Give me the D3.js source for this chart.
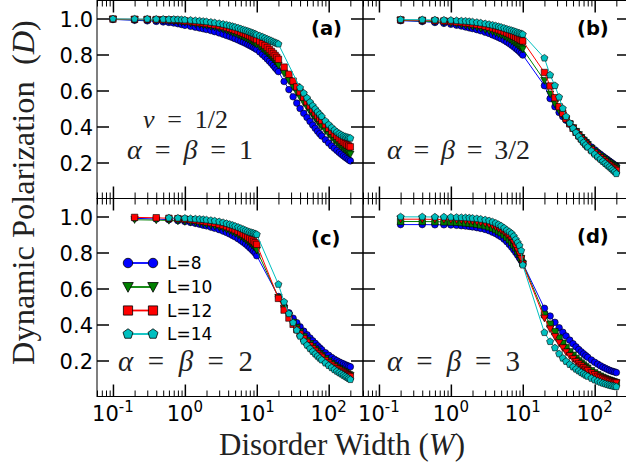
<!DOCTYPE html>
<html><head><meta charset="utf-8">
<script src="https://cdn.jsdelivr.net/npm/d3@7/dist/d3.min.js"></script>
<style>
html,body{margin:0;padding:0;background:#fff;}
svg{display:block;}
text{white-space:pre;}
</style></head>
<body>
<svg id="chart" width="626" height="469"></svg>
<script>
// ---------------- data ----------------
const seriesNames = ["L=8", "L=10", "L=12", "L=14"];
const panelTags = ["(a)", "(b)", "(c)", "(d)"];
const xTicksMajor = [0.1, 1, 10, 100];
const xTickExp = ["-1", "0", "1", "2"];
const yTicksMajor = [0.2, 0.4, 0.6, 0.8, 1.0];

// disorder widths, panel (a)
const W_A = [0.1,0.2,0.3,0.4,0.5,0.6,0.7,0.8,0.9,1.0,
  1.2,1.4,1.6,1.8,2.0,2.3,2.6,3.0,3.4,3.8,
  4.2,4.6,5.0,5.5,6,6.5,7,7.5,8,8.5,
  9,9.5,10,11,12,13,14,15,16,17,
  18,19,20,24,28,32,36,40,45,50,
  55,60,65,70,75,80,90,100,110,120,
  130,140,150,160,170,180,190,200];
// disorder widths, panels (b)-(d)
const W_BCD = [0.2,0.4,0.6,0.8,1.0,1.2,1.4,1.6,1.8,2.0,
  2.3,2.6,3.0,3.4,3.8,4.2,4.6,5.0,5.5,6,
  6.5,7,7.5,8,8.5,9,9.5,10,20,24,
  28,32,36,40,45,50,55,60,65,70,
  75,80,90,100,110,120,130,140,150,160,
  170,180,190,200];

// (a) alpha=beta=1
const A_L8 = [0.995,0.99,0.987,0.984,0.981,0.978,0.975,0.971,0.967,0.962,
  0.957,0.952,0.947,0.943,0.939,0.933,0.927,0.92,0.913,0.906,
  0.9,0.894,0.888,0.881,0.874,0.868,0.862,0.856,0.85,0.845,
  0.839,0.834,0.828,0.814,0.8,0.788,0.775,0.763,0.751,0.739,
  0.727,0.716,0.705,0.65,0.605,0.565,0.53,0.5,0.473,0.45,
  0.428,0.408,0.39,0.374,0.36,0.347,0.326,0.308,0.292,0.279,
  0.267,0.256,0.246,0.237,0.229,0.222,0.215,0.209];
const A_L10 = [0.995,0.993,0.992,0.99,0.988,0.986,0.984,0.982,0.98,0.978,
  0.974,0.97,0.967,0.964,0.961,0.956,0.952,0.946,0.94,0.934,
  0.928,0.922,0.917,0.91,0.903,0.897,0.891,0.885,0.879,0.873,
  0.867,0.861,0.855,0.843,0.831,0.819,0.807,0.795,0.784,0.773,
  0.762,0.751,0.74,0.695,0.655,0.62,0.59,0.562,0.532,0.506,
  0.483,0.462,0.444,0.428,0.413,0.4,0.376,0.356,0.338,0.323,
  0.31,0.298,0.287,0.277,0.268,0.26,0.253,0.246];
const A_L12 = [0.997,0.996,0.995,0.994,0.993,0.992,0.991,0.99,0.988,0.986,
  0.983,0.98,0.977,0.975,0.972,0.968,0.965,0.96,0.955,0.95,
  0.945,0.94,0.935,0.93,0.924,0.918,0.913,0.908,0.903,0.898,
  0.893,0.888,0.883,0.872,0.861,0.85,0.839,0.828,0.817,0.806,
  0.795,0.784,0.773,0.73,0.69,0.652,0.62,0.592,0.562,0.537,
  0.514,0.494,0.476,0.46,0.446,0.433,0.41,0.39,0.373,0.358,
  0.345,0.333,0.322,0.313,0.305,0.298,0.292,0.287];
const A_L14 = [0.998,0.997,0.997,0.996,0.996,0.995,0.995,0.994,0.993,0.992,
  0.99,0.988,0.986,0.984,0.982,0.979,0.976,0.972,0.968,0.964,
  0.96,0.956,0.952,0.947,0.942,0.937,0.933,0.929,0.925,0.921,
  0.917,0.913,0.909,0.903,0.897,0.891,0.885,0.88,0.875,0.87,
  0.866,0.862,0.858,null,null,null,null,0.615,0.585,0.558,
  0.535,0.515,0.497,0.481,0.467,0.455,0.43,0.41,0.394,0.38,
  0.369,0.36,0.353,0.347,0.343,0.34,0.337,0.335];

// (b) alpha=beta=3/2
const B_L8 = [0.988,0.983,0.978,0.973,0.968,0.963,0.958,0.953,0.948,0.944,
  0.938,0.932,0.924,0.917,0.909,0.902,0.895,0.888,0.879,0.87,
  0.861,0.852,0.843,0.834,0.825,0.816,0.807,0.797,0.627,0.555,
  0.51,0.478,0.455,0.435,0.413,0.393,0.374,0.357,0.342,0.328,
  0.316,0.305,0.286,0.27,0.256,0.245,0.234,0.225,0.216,0.208,
  0.2,0.193,0.186,0.18];
const B_L10 = [0.99,0.986,0.982,0.978,0.974,0.97,0.966,0.962,0.958,0.955,
  0.95,0.945,0.938,0.932,0.926,0.92,0.914,0.908,0.9,0.892,
  0.884,0.876,0.868,0.86,0.852,0.844,0.837,0.83,0.655,0.58,
  0.525,0.487,0.46,0.437,0.413,0.392,0.372,0.354,0.338,0.323,
  0.31,0.298,0.278,0.262,0.247,0.235,0.224,0.214,0.205,0.197,
  0.189,0.182,0.175,0.168];
const B_L12 = [0.992,0.99,0.988,0.986,0.983,0.98,0.978,0.975,0.973,0.97,
  0.966,0.962,0.957,0.952,0.947,0.942,0.937,0.932,0.926,0.92,
  0.914,0.908,0.902,0.896,0.89,0.885,0.88,0.875,0.7,0.625,
  0.56,0.51,0.473,0.443,0.415,0.39,0.368,0.349,0.332,0.317,
  0.303,0.291,0.271,0.254,0.239,0.226,0.215,0.205,0.195,0.186,
  0.178,0.17,0.163,0.156];
const B_L14 = [0.994,0.993,0.992,0.991,0.99,0.988,0.986,0.985,0.983,0.981,
  0.978,0.975,0.971,0.967,0.963,0.959,0.955,0.951,0.946,0.941,
  0.937,0.933,0.929,0.925,0.921,0.918,0.915,0.912,0.78,0.686,
  0.627,0.563,0.5,0.455,0.418,0.39,0.366,0.345,0.327,0.311,
  0.297,0.285,0.264,0.246,0.231,0.218,0.206,0.195,0.185,0.175,
  0.166,0.157,0.148,0.138];

// (c) alpha=beta=2
const C_L8 = [0.99,0.986,0.982,0.977,0.972,0.967,0.962,0.957,0.952,0.948,
  0.941,0.935,0.927,0.919,0.911,0.903,0.895,0.887,0.877,0.867,
  0.857,0.847,0.837,0.827,0.817,0.807,0.797,0.782,0.555,0.5,
  0.465,0.435,0.41,0.387,0.363,0.343,0.325,0.309,0.295,0.282,
  0.27,0.26,0.243,0.229,0.217,0.207,0.199,0.192,0.186,0.181,
  0.176,0.172,0.168,0.165];
const C_L10 = [0.982,0.98,0.978,0.975,0.972,0.969,0.966,0.963,0.96,0.957,
  0.952,0.947,0.941,0.935,0.928,0.921,0.914,0.907,0.898,0.889,
  0.88,0.871,0.862,0.853,0.844,0.835,0.826,0.812,0.55,0.49,
  0.447,0.412,0.383,0.358,0.333,0.312,0.293,0.276,0.262,0.249,
  0.238,0.228,0.21,0.196,0.183,0.172,0.162,0.154,0.146,0.139,
  0.133,0.127,0.122,0.117];
const C_L12 = [0.995,0.993,0.99,0.988,0.985,0.982,0.979,0.976,0.973,0.97,
  0.966,0.962,0.956,0.95,0.944,0.938,0.932,0.926,0.918,0.91,
  0.902,0.894,0.886,0.878,0.87,0.862,0.854,0.845,0.545,0.48,
  0.436,0.401,0.372,0.347,0.322,0.301,0.282,0.266,0.252,0.239,
  0.228,0.218,0.2,0.186,0.174,0.163,0.154,0.146,0.139,0.133,
  0.127,0.121,0.116,0.111];
const C_L14 = [null,null,0.992,0.991,0.99,0.988,0.986,0.985,0.983,0.981,
  0.978,0.975,0.971,0.966,0.961,0.956,0.951,0.946,0.94,0.934,
  0.928,0.922,0.917,0.913,0.91,0.907,0.903,0.9,0.623,0.525,
  0.46,0.41,0.368,0.335,0.307,0.285,0.266,0.25,0.236,0.224,
  0.213,0.203,0.186,0.172,0.16,0.149,0.14,0.132,0.125,0.118,
  0.112,0.106,0.1,0.094];

// (d) alpha=beta=3
const D_L8 = [0.955,0.955,0.954,0.954,0.953,0.951,0.949,0.947,0.945,0.942,
  0.938,0.934,0.928,0.921,0.913,0.905,0.896,0.887,0.874,0.86,
  0.845,0.83,0.815,0.8,0.785,0.77,0.755,0.74,0.49,0.447,
  0.412,0.382,0.357,0.336,0.313,0.293,0.276,0.261,0.248,0.237,
  0.227,0.218,0.203,0.19,0.18,0.171,0.163,0.157,0.151,0.146,
  0.142,0.139,0.136,0.133];
const D_L10 = [0.972,0.972,0.971,0.97,0.969,0.968,0.966,0.964,0.962,0.96,
  0.957,0.953,0.948,0.942,0.935,0.927,0.919,0.91,0.898,0.885,
  0.871,0.857,0.842,0.826,0.808,0.79,0.768,0.74,0.455,0.402,
  0.36,0.325,0.296,0.272,0.248,0.229,0.212,0.198,0.186,0.175,
  0.165,0.157,0.143,0.131,0.121,0.113,0.106,0.1,0.095,0.091,
  0.087,0.083,0.08,0.077];
const D_L12 = [0.985,0.985,0.984,0.983,0.982,0.981,0.98,0.978,0.976,0.974,
  0.971,0.967,0.962,0.956,0.949,0.941,0.933,0.924,0.912,0.899,
  0.885,0.87,0.855,0.83,0.81,0.79,0.765,0.735,0.435,0.375,
  0.333,0.298,0.27,0.247,0.226,0.209,0.194,0.181,0.17,0.16,
  0.151,0.143,0.131,0.121,0.112,0.105,0.099,0.094,0.09,0.086,
  0.083,0.08,0.077,0.075];
const D_L14 = [0.998,0.998,0.997,0.997,0.996,0.995,0.994,0.993,0.992,0.99,
  0.988,0.985,0.981,0.976,0.97,0.963,0.955,0.947,0.936,0.924,
  0.915,0.905,0.89,0.872,0.855,0.838,0.81,0.73,0.355,0.305,
  0.27,0.237,0.213,0.195,0.178,0.164,0.152,0.142,0.133,0.125,
  0.118,0.112,0.101,0.092,0.085,0.079,0.074,0.07,0.066,0.063,
  0.06,0.058,0.056,0.054];

// ---------------- drawing ----------------
const svg = d3.select("#chart");
const PW = 266, PH = 198;
const colX = [97, 363], rowY = [0.5, 198.5];
const x = d3.scaleLog().domain([0.06, 300]).range([0, PW]);
const y = d3.scaleLinear().domain([0, 1.1]).range([PH, 0]);
const colors = ["#0000ff", "#008000", "#ff0000", "#00bfbf"];

const shapes = {
  circle: {draw(c, s){ const r = s/2; c.moveTo(r, 0); c.arc(0, 0, r, 0, 2*Math.PI); c.closePath(); }},
  square: {draw(c, s){ const h = s*0.46; c.rect(-h, -h, 2*h, 2*h); }},
  tri:    {draw(c, s){ const h = s/2; c.moveTo(0, h); c.lineTo(-h, -h*0.85); c.lineTo(h, -h*0.85); c.closePath(); }},
  pent:   {draw(c, s){ const r = s/2; for (let i = 0; i < 5; i++){ const a = -Math.PI/2 + i*2*Math.PI/5; const px = r*Math.cos(a), py = r*Math.sin(a); if (i) c.lineTo(px, py); else c.moveTo(px, py);} c.closePath(); }}
};
const msData = {circle: 6.6, square: 7, tri: 7.4, pent: 7.4};
const msLegend = {circle: 9.5, square: 10, tri: 10.5, pent: 10.5};

const panels = [
  {col:0, row:0, W:W_A,   D:[A_L8,A_L10,A_L12,A_L14], shp:["circle","tri","square","pent"]},
  {col:1, row:0, W:W_BCD, D:[B_L8,B_L10,B_L12,B_L14], shp:["circle","tri","square","pent"]},
  {col:0, row:1, W:W_BCD, D:[C_L8,C_L10,C_L12,C_L14], shp:["circle","tri","square","pent"]},
  {col:1, row:1, W:W_BCD, D:[D_L8,D_L10,D_L12,D_L14], shp:["circle","square","tri","pent"]}
];

const minorTicks = [];
[-2,-1,0,1,2].forEach(k => { for (let m = 2; m <= 9; m++){ const v = m*Math.pow(10,k); if (v >= 0.06 && v < 300) minorTicks.push(+v.toPrecision(3)); } });

panels.forEach((p, pi) => {
  const g = svg.append("g").attr("transform", `translate(${colX[p.col]},${rowY[p.row]})`);
  p.D.forEach((vals, si) => {
    const pts = p.W.map((w, i) => ({w, d: vals[i]})).filter(q => q.d != null);
    const sg = g.append("g");
    sg.append("path").datum(pts)
      .attr("fill", "none").attr("stroke", colors[si]).attr("stroke-width", 1)
      .attr("d", d3.line().x(q => x(q.w)).y(q => y(q.d)));
    sg.selectAll("path.m").data(pts).join("path").attr("class", "m")
      .attr("transform", q => `translate(${x(q.w)},${y(q.d)})`)
      .attr("d", d3.symbol().type(shapes[p.shp[si]]).size(msData[p.shp[si]]))
      .attr("fill", colors[si]).attr("stroke", "#000").attr("stroke-width", 0.6);
  });
  const styleAx = (sel, w) => { sel.select(".domain").remove(); sel.selectAll(".tick line").attr("stroke", "#000").attr("stroke-width", w); };
  g.append("g").attr("transform", `translate(0,${PH})`).call(d3.axisBottom(x).tickValues(xTicksMajor).tickSize(-12).tickFormat("")).call(s => styleAx(s, 1.5));
  g.append("g").attr("transform", `translate(0,${PH})`).call(d3.axisBottom(x).tickValues(minorTicks).tickSize(-6).tickFormat("")).call(s => styleAx(s, 1));
  g.append("g").call(d3.axisTop(x).tickValues(xTicksMajor).tickSize(-12).tickFormat("")).call(s => styleAx(s, 1.5));
  g.append("g").call(d3.axisTop(x).tickValues(minorTicks).tickSize(-6).tickFormat("")).call(s => styleAx(s, 1));
  const left = g.append("g").call(d3.axisLeft(y).tickValues(yTicksMajor).tickSize(-12).tickPadding(4)
      .tickFormat(p.col === 0 ? d3.format(".1f") : ""));
  styleAx(left, 1.5);
  left.selectAll("text").attr("font-family", "DejaVu Sans").attr("font-size", 21).attr("fill", "#000").attr("dy", "0.36em");
  g.append("g").attr("transform", `translate(${PW},0)`).call(d3.axisRight(y).tickValues(yTicksMajor).tickSize(-12).tickFormat("")).call(s => styleAx(s, 1.5));
  g.append("rect").attr("x", 0).attr("y", 0).attr("width", PW).attr("height", PH)
    .attr("fill", "none").attr("stroke", "#000").attr("stroke-width", 1);
  if (p.row === 1) {
    xTicksMajor.forEach((v, i) => {
      const t = g.append("text").attr("x", x(v)).attr("y", PH + 24)
        .attr("text-anchor", "middle").attr("font-family", "DejaVu Sans").attr("font-size", 21).attr("fill", "#000");
      t.append("tspan").text("10");
      t.append("tspan").attr("dy", -9).attr("font-size", 15).text(xTickExp[i]);
    });
  }
});

// panel tags
const tagPos = [[311, 35], [577, 35], [311, 245], [577, 243]];
panelTags.forEach((t, i) => {
  svg.append("text").attr("x", tagPos[i][0]).attr("y", tagPos[i][1])
    .attr("font-family", "DejaVu Sans").attr("font-weight", "bold").attr("font-size", 19.5).text(t);
});

// math annotations: pieces spaced so the whole spans the target width
function mathText(x0, y0, pieces, target, fs) {
  const t = svg.append("text").attr("x", x0).attr("y", y0)
    .attr("font-family", "Liberation Serif").attr("font-size", fs).attr("fill", "#222");
  const spans = pieces.map(([s, it]) => t.append("tspan").attr("font-style", it ? "italic" : "normal").text(s));
  const w0 = t.node().getBBox().width;
  const gap = (target - w0) / (pieces.length - 1);
  spans.forEach((sp, i) => { if (i) sp.attr("dx", gap); });
  return t;
}
mathText(143, 128, [["ν", 1], ["=", 0], ["1/2", 0]], 85, 26);
mathText(127, 159, [["α", 1], ["=", 0], ["β", 1], ["=", 0], ["1", 0]], 126, 28);
mathText(387, 159, [["α", 1], ["=", 0], ["β", 1], ["=", 0], ["3/2", 0]], 143, 28);
mathText(118, 371, [["α", 1], ["=", 0], ["β", 1], ["=", 0], ["2", 0]], 135, 29);
mathText(387, 371, [["α", 1], ["=", 0], ["β", 1], ["=", 0], ["3", 0]], 133, 29);

// legend in panel (c)
const legRows = [263, 287, 310.5, 334];
seriesNames.forEach((name, i) => {
  const lg = svg.append("g");
  lg.append("line").attr("x1", 128).attr("x2", 153).attr("y1", legRows[i]).attr("y2", legRows[i])
    .attr("stroke", colors[i]).attr("stroke-width", 1.8);
  [128, 153].forEach(px => lg.append("path").attr("transform", `translate(${px},${legRows[i]})`)
    .attr("d", d3.symbol().type(shapes[panels[2].shp[i]]).size(msLegend[panels[2].shp[i]]))
    .attr("fill", colors[i]).attr("stroke", "#000").attr("stroke-width", 0.8));
  lg.append("text").attr("x", 167).attr("y", legRows[i]).attr("dy", "0.36em")
    .attr("font-family", "DejaVu Sans").attr("font-size", 17).text(name);
});

// axis titles
function fitWidth(sel, target) {
  const w = sel.node().getBBox().width;
  const fs = parseFloat(sel.attr("font-size"));
  sel.attr("font-size", fs * target / w);
}
const xt = svg.append("text").attr("font-family", "Liberation Serif").attr("font-size", 28).attr("fill", "#222");
xt.append("tspan").text("Disorder Width (");
xt.append("tspan").attr("font-style", "italic").text("W");
xt.append("tspan").text(")");
fitWidth(xt, 246);
xt.attr("x", 342).attr("y", 455).attr("text-anchor", "middle");

const yt = svg.append("text").attr("font-family", "Liberation Serif").attr("font-size", 28).attr("fill", "#222");
yt.append("tspan").text("Dynamic Polarization  (");
yt.append("tspan").attr("font-style", "italic").text("D");
yt.append("tspan").text(")");
fitWidth(yt, 345);
yt.attr("text-anchor", "middle").attr("transform", "translate(34,192.5) rotate(-90)");
</script>
</body></html>
